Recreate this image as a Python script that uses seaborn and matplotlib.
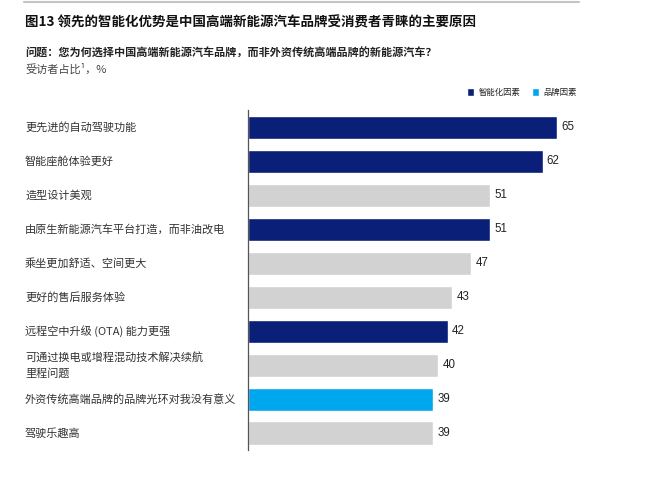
import matplotlib
matplotlib.use("Agg")
import matplotlib.pyplot as plt
import matplotlib.transforms as mtransforms
from matplotlib.patches import Patch
from matplotlib.lines import Line2D
import pandas as pd
import seaborn as sns

# ==============================================================================
# DATOS
# ==============================================================================
categorias = [
    "更先进的自动驾驶功能",
    "智能座舱体验更好",
    "造型设计美观",
    "由原生新能源汽车平台打造，而非油改电",
    "乘坐更加舒适、空间更大",
    "更好的售后服务体验",
    "远程空中升级 (OTA) 能力更强",
    "可通过换电或增程混动技术解决续航\n里程问题",
    "外资传统高端品牌的品牌光环对我没有意义",
    "驾驶乐趣高",
]
valores = [65, 62, 51, 51, 47, 43, 42, 40, 39, 39]
tipo = ["智能", "智能", "其他", "智能", "其他", "其他", "智能", "其他", "品牌", "其他"]

colores_tipo = {"智能": "#0A1F78", "品牌": "#00A6EE", "其他": "#D2D2D3"}
leyenda = ["智能化因素", "品牌因素"]

titulo = "图13 领先的智能化优势是中国高端新能源汽车品牌受消费者青睐的主要原因"
pregunta = "问题：您为何选择中国高端新能源汽车品牌，而非外资传统高端品牌的新能源汽车？"
unidad = "受访者占比¹，%"

# ==============================================================================
# FIGURA
# ==============================================================================
sns.set_style("white")
plt.rcParams["font.family"] = ["Noto Sans CJK SC", "DejaVu Sans"]

W, H = 650, 483
fig = plt.figure(figsize=(6.5, 4.83), dpi=100)

ax_left, ax_right = 248, 604
ax_top, ax_bottom = 110.5, 450
ax = fig.add_axes([ax_left / W, 1 - ax_bottom / H,
                   (ax_right - ax_left) / W, (ax_bottom - ax_top) / H])

df = pd.DataFrame({"cat": categorias, "val": valores, "tipo": tipo})
paleta = [colores_tipo[t] for t in tipo]

sns.barplot(data=df, x="val", y="cat", hue="cat", palette=paleta,
            legend=False, width=0.68, orient="h", ax=ax, saturation=1)

ax.set_xlim(0, (ax_right - ax_left) / 4.75)
ax.set_ylim(len(categorias) - 0.5, -0.5)
ax.set_xlabel("")
ax.set_ylabel("")
ax.set_xticks([])
ax.set_yticks([])
for lado in ["top", "right", "bottom"]:
    ax.spines[lado].set_visible(False)
ax.spines["left"].set_color("#555555")
ax.spines["left"].set_linewidth(0.9)

# valores al final de cada barra
for i, v in enumerate(valores):
    ax.text(v + 0.9, i, str(v), va="center", ha="left",
            fontsize=8.3, color="#222222", family=["Liberation Sans", "DejaVu Sans"])

# etiquetas de categoría alineadas a la izquierda
trans = mtransforms.blended_transform_factory(fig.transFigure, ax.transData)
for i, c in enumerate(categorias):
    ax.text(25 / W, i, c, transform=trans, va="center", ha="left",
            fontsize=8, color="#333333", linespacing=1.6)

# encabezados
fig.add_artist(Line2D([24 / W, 579 / W], [1 - 2 / H, 1 - 2 / H],
                      color="#C4C4C4", linewidth=1.5))
fig.text(25 / W, 1 - 22 / H, titulo, fontsize=9.7, fontweight="bold",
         va="center", ha="left", color="#111111")
fig.text(25 / W, 1 - 53 / H, pregunta, fontsize=8, fontweight="bold",
         va="center", ha="left", color="#222222")
fig.text(25 / W, 1 - 69 / H, unidad, fontsize=8,
         va="center", ha="left", color="#444444")

# leyenda
handles = [Patch(facecolor=colores_tipo["智能"], label=leyenda[0]),
           Patch(facecolor=colores_tipo["品牌"], label=leyenda[1])]
fig.legend(handles=handles, loc="center right",
           bbox_to_anchor=(581 / W, 1 - 92 / H), ncol=2, frameon=False,
           fontsize=6, handlelength=0.85, handleheight=1.1,
           handletextpad=0.5, columnspacing=1.4, borderpad=0)

fig.savefig("out.png", dpi=100, facecolor="white")
plt.close(fig)
